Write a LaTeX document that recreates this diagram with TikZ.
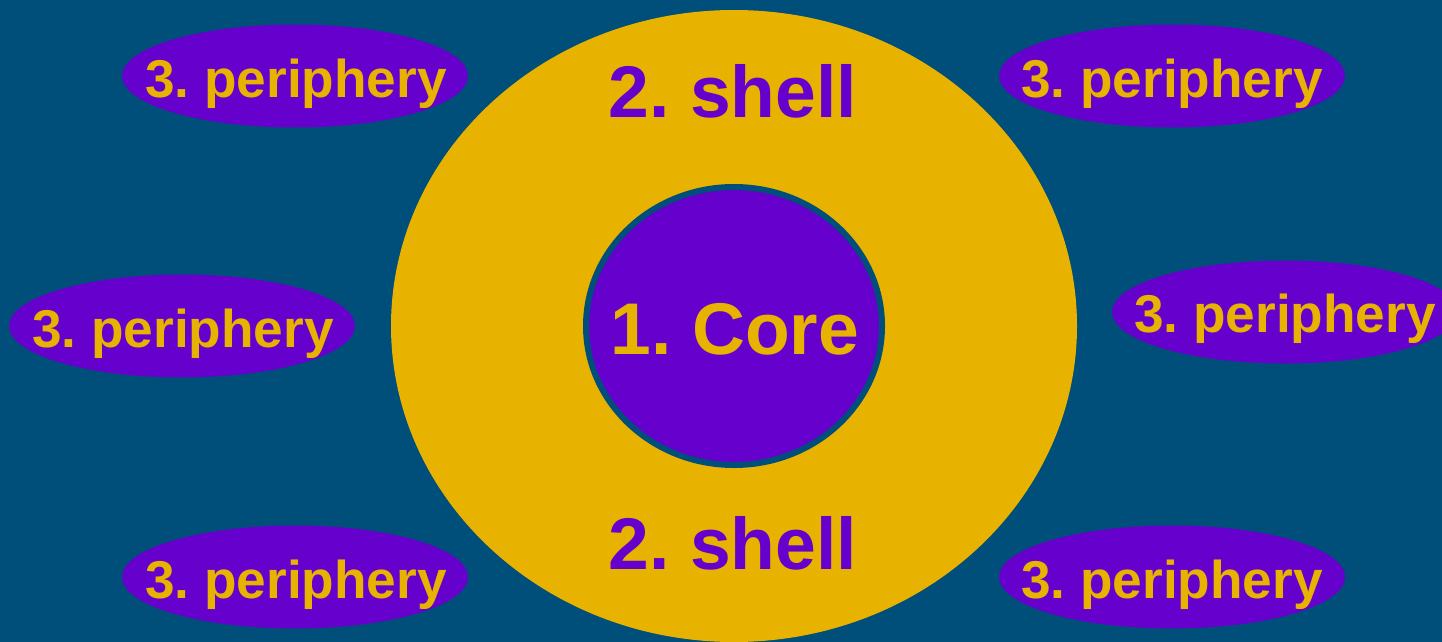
\documentclass[tikz,border=0pt]{standalone}
\usepackage{fontspec}
\setmainfont{Liberation Sans}
\usetikzlibrary{shapes.geometric}
\definecolor{bgblue}{RGB}{0,78,122}
\definecolor{gold}{RGB}{232,178,0}
\definecolor{violet}{RGB}{102,0,204}
\tikzset{
  peri/.style={ellipse, fill=violet, draw=none, minimum width=346pt, minimum height=103pt, inner sep=0pt},
  peritext/.style={anchor=base, text=gold, font=\fontsize{53.2}{60}\selectfont\bfseries\frenchspacing, inner sep=0pt},
  bigtext/.style={anchor=base, font=\fontsize{73.2}{80}\selectfont\bfseries\frenchspacing, inner sep=0pt},
}
\begin{document}
\frenchspacing
\begin{tikzpicture}[x=1pt,y=-1pt]
\useasboundingbox (0,0) rectangle (1442,642);
\fill[bgblue] (0,0) rectangle (1442,642);
\clip (0,0) rectangle (1442,642);
% shell
\node[ellipse, fill=gold, draw=none, minimum width=686pt, minimum height=632pt, inner sep=0pt] (shell) at (734,326) {};
% core
\node[ellipse, fill=violet, draw=bgblue, line width=6pt, minimum width=296pt, minimum height=278pt, inner sep=0pt] (core) at (734,326) {};
\node[bigtext, text=gold] (coretext) at (735,354) {1. Core};
\node[bigtext, text=violet] (shelltop) at (733,117) {2. shell};
\node[bigtext, text=violet] (shellbot) at (733,569) {2. shell};
% periphery
\node[peri] (p1) at (295,76) {};
\node[peri] (p2) at (1172,76) {};
\node[peri] (p3) at (182,326) {};
\node[peri] (p4) at (1285,312) {};
\node[peri] (p5) at (295,577) {};
\node[peri] (p6) at (1172,577) {};
\node[peritext] (t1) at (296,97) {3. periphery};
\node[peritext] (t2) at (1172,97) {3. periphery};
\node[peritext] (t3) at (183,347) {3. periphery};
\node[peritext] (t4) at (1285,332) {3. periphery};
\node[peritext] (t5) at (296,598) {3. periphery};
\node[peritext] (t6) at (1172,598) {3. periphery};
\end{tikzpicture}
\end{document}
